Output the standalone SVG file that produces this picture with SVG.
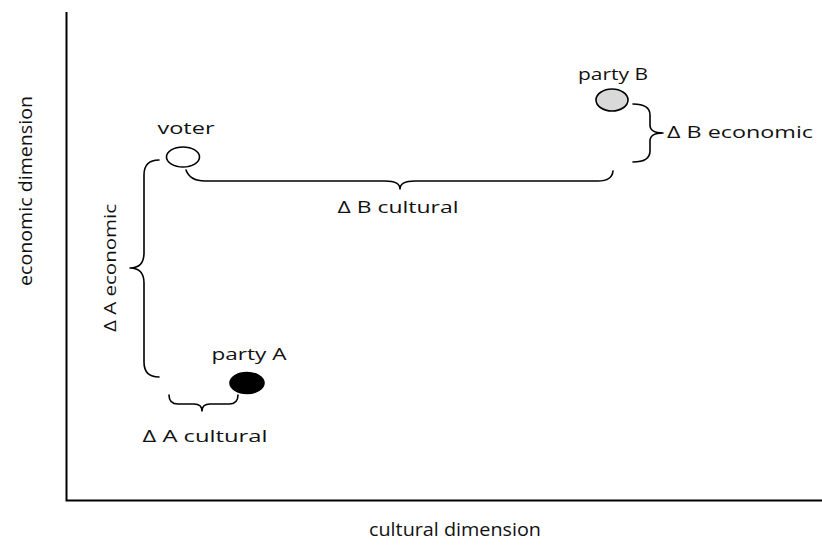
<svg xmlns="http://www.w3.org/2000/svg" width="822" height="545" viewBox="0 0 822 545">
  <style>
    .axis { fill: none; stroke: #000; stroke-width: 2; }
    .brace { fill: none; stroke: #000; stroke-width: 1.6; stroke-linejoin: round; stroke-linecap: round; }
    .pt { stroke: #000; stroke-width: 1.6; }
    .lbl { font-family: "Open Sans", "Liberation Sans", sans-serif; font-size: 17px; fill: #111; }
    .axlbl { font-family: "Open Sans", "Liberation Sans", sans-serif; font-size: 18px; fill: #111; }
  </style>

  <!-- axes -->
  <g id="axes">
    <path class="axis" d="M66.5,12 L66.5,500.5 L822,500.5"/>
    <text class="axlbl" x="455" y="536" text-anchor="middle" textLength="172" lengthAdjust="spacingAndGlyphs">cultural dimension</text>
    <text class="axlbl" transform="translate(32,191) rotate(-90)" text-anchor="middle" textLength="190" lengthAdjust="spacingAndGlyphs">economic dimension</text>
  </g>

  <!-- positions -->
  <g id="voter">
    <ellipse class="pt" cx="183" cy="157" rx="16.5" ry="10" fill="#fff"/>
    <text class="lbl" x="186" y="134" text-anchor="middle" textLength="57" lengthAdjust="spacingAndGlyphs">voter</text>
  </g>
  <g id="partyB">
    <ellipse class="pt" cx="612" cy="100" rx="16" ry="11" fill="#d9d9d9"/>
    <text class="lbl" x="613" y="80" text-anchor="middle" textLength="70" lengthAdjust="spacingAndGlyphs">party B</text>
  </g>
  <g id="partyA">
    <ellipse class="pt" cx="247" cy="383" rx="17" ry="10.5" fill="#000"/>
    <text class="lbl" x="249" y="360" text-anchor="middle" textLength="75" lengthAdjust="spacingAndGlyphs">party A</text>
  </g>

  <!-- distance braces -->
  <g id="connectors">
    <path class="brace" d="M159,160 Q144,160 144,175 L144,253 Q144,268 130,268 Q144,268 144,283 L144,362 Q144,377 159,377"/>
    <path class="brace" d="M633,104 Q650,104 650,115 L650,125 Q650,133 663,133 Q650,133 650,141 L650,151 Q650,162 633,162"/>
    <path class="brace" d="M186,170 Q190,181 205,181 L385,181 Q400,181 400,189 Q400,181 415,181 L598,181 Q612,181 613,171"/>
    <path class="brace" d="M169,395 Q169,404 178,404 L194,404 Q202,404 202,411 Q202,404 210,404 L229,404 Q238,404 238,395"/>
  </g>

  <g id="labels">
    <text class="lbl" x="667" y="138" textLength="146" lengthAdjust="spacingAndGlyphs">Δ B economic</text>
    <text class="lbl" x="398" y="213" text-anchor="middle" textLength="121" lengthAdjust="spacingAndGlyphs">Δ B cultural</text>
    <text class="lbl" transform="translate(116,268) rotate(-90)" text-anchor="middle" textLength="128" lengthAdjust="spacingAndGlyphs">Δ A economic</text>
    <text class="lbl" x="205" y="442" text-anchor="middle" textLength="125" lengthAdjust="spacingAndGlyphs">Δ A cultural</text>
  </g>
</svg>
